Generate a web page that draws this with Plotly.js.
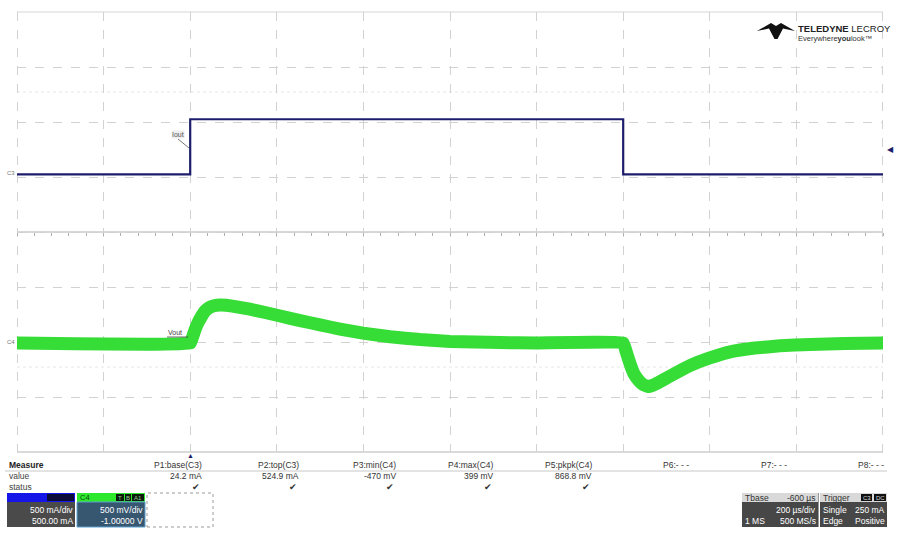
<!DOCTYPE html>
<html>
<head>
<meta charset="utf-8">
<script src="https://cdn.plot.ly/plotly-3.0.1.min.js"></script>
<style>
html,body{margin:0;padding:0;background:#fff;}
#chart{width:900px;height:549px;}
</style>
</head>
<body>
<div id="chart"></div>
<script>
// ---- Data ----
// C3: output current (mA) vs time (µs), trigger at t = 0
const timeC3 = [-400, 0, 0, 1000, 1000, 1600];
const currentC3 = [24.2, 24.2, 524.9, 524.9, 24.2, 24.2];

// C4: output voltage deviation (mV) vs time (µs)
const timeC4 = [-400, 0, 5, 11, 18, 25, 34, 44, 55, 69, 83, 104, 138, 173, 208, 254, 300, 346, 399, 462, 531, 600, 716, 800, 1000,
                1007, 1016, 1025, 1037, 1048, 1060, 1073, 1092, 1120, 1154, 1200, 1247, 1304, 1362, 1432, 1512, 1600];
const voutC4 = [-10, -10, 40, 109, 175, 225, 280, 312, 330, 337, 334, 322, 298, 268, 236, 195, 155, 118, 80, 48, 22, 5, -5, -9, -9,
                -90, -200, -290, -355, -392, -405, -385, -345, -285, -215, -145, -90, -55, -35, -22, -14, -10];

// Measurement table
const measNames = ["P1:base(C3)", "P2:top(C3)", "P3:min(C4)", "P4:max(C4)", "P5:pkpk(C4)", "P6:- - -", "P7:- - -", "P8:- - -"];
const measValues = ["24.2 mA", "524.9 mA", "-470 mV", "399 mV", "868.8 mV", "", "", ""];
const measStatus = ["✔", "✔", "✔", "✔", "✔", "", "", ""];

// Channel / timebase settings
const c3Settings = ["500 mA/div", "500.00 mA"];
const c4Settings = ["500 mV/div", "-1.00000 V"];
const tbaseSettings = {delay: "-600 µs", scale: "200 µs/div", points: "1 MS", rate: "500 MS/s"};
const trigSettings = {mode: "Single", level: "250 mA", type: "Edge", slope: "Positive"};

// ---- Layout helpers (pixel -> paper) ----
const L = 17, R = 883, T = 12, B = 452;
const px = x => (x - L) / (R - L);
const py = y => (B - y) / (B - T);

const FONT = "Liberation Sans, Arial, sans-serif";
const navy = "#1d1d6c";
const green = "#36dd36";

const traces = [
  {x: timeC4, y: voutC4, yaxis: "y2", mode: "lines", line: {color: green, width: 13, shape: "spline", smoothing: 0.25}, hoverinfo: "skip"},
  {x: timeC3, y: currentC3, mode: "lines", line: {color: navy, width: 2.2}, hoverinfo: "skip"}
];

const shapes = [];
const ann = [];

function rect(x0, y0, x1, y1, fill, lineColor, dash) {
  shapes.push({type: "rect", xref: "paper", yref: "paper", x0: px(x0), x1: px(x1), y0: py(y1), y1: py(y0),
    fillcolor: fill, line: {color: lineColor || fill, width: lineColor ? 1 : 0, dash: dash || "solid"}, layer: "above"});
}
function line(x0, y0, x1, y1, color, width, dash, layer) {
  shapes.push({type: "line", xref: "paper", yref: "paper", x0: px(x0), x1: px(x1), y0: py(y0), y1: py(y1),
    line: {color: color, width: width || 1, dash: dash || "solid"}, layer: layer || "above"});
}
function text(x, y, s, opts) {
  opts = opts || {};
  ann.push({xref: "paper", yref: "paper", x: px(x), y: py(y), text: s, showarrow: false,
    xanchor: opts.anchor || "left", yanchor: "middle", borderpad: 0,
    bgcolor: opts.bg || "rgba(0,0,0,0)",
    font: {family: opts.family || FONT, size: opts.size || 8.5, color: opts.color || "#333"}});
}

// center horizontal axis (solid) and faint dotted rows
line(L, 232, R, 232, "#b0b0b0", 1, "solid", "below");
line(L, 92, R, 92, "#e6e6e6", 1, "dot", "below");
line(L, 367, R, 367, "#e6e6e6", 1, "dot", "below");
// grid border
line(L, T, R, T, "#d6d6d6", 1, "solid", "below");
line(L, B, R, B, "#b5b5b5", 1, "solid", "below");
line(L + 0.5, T, L + 0.5, B, "#d2d2d2", 1, "dash", "below");
line(R - 0.5, T, R - 0.5, B, "#d2d2d2", 1, "dash", "below");

// trace labels and markers
text(171, 134, "Iout", {size: 7, color: "#555", bg: "#eeeeee"});
line(178, 139, 189, 148, "#555", 0.8);
text(167, 332, "Vout", {size: 7, color: "#444"});
line(167, 337, 188, 337, "#444", 0.8);
text(6, 173, "C3", {size: 6, color: "#777"});
text(6, 342, "C4", {size: 6, color: "#777"});
text(890, 149, "◀", {anchor: "center", size: 8, color: navy});
text(190, 455, "▲", {anchor: "center", size: 7, color: navy});

// logo
shapes.push({type: "path", xref: "paper", yref: "paper", layer: "above",
  path: ["M", px(757), py(31), "L", px(771), py(23), "L", px(776), py(26), "L", px(781), py(23),
         "L", px(795), py(31), "L", px(783), py(28.5), "L", px(777.5), py(39), "L", px(774.5), py(39),
         "L", px(769), py(28.5), "Z"].map((v, i) => typeof v === "number" ? v.toFixed(5) : v).join(" ").replace(/ (\-?[\d.]+) (\-?[\d.]+)/g, " $1,$2"),
  fillcolor: "#111", line: {width: 0}});
text(797, 28, "<b>TELEDYNE</b> LECROY", {size: 9.5, color: "#222", family: "Liberation Sans Narrow, Arial Narrow, Liberation Sans, sans-serif"});
text(797, 38, "Everywhere<b>you</b>look™", {size: 7.5, color: "#333", family: "Liberation Sans Narrow, Arial Narrow, Liberation Sans, sans-serif"});

// measurement table
text(8, 465, "<b>Measure</b>", {size: 8.5, color: "#222"});
text(8, 476, "value", {size: 8.5, color: "#444"});
text(8, 487, "status", {size: 8.5, color: "#444"});
line(5, 471, 887, 471, "#c8c8c8", 1);
const colRight = [203, 300, 397, 495, 593, 690, 788, 885];
for (let i = 0; i < measNames.length; i++) {
  text(colRight[i], 465, measNames[i], {anchor: "right", size: 8.5, color: "#333"});
  if (measValues[i]) text(colRight[i], 476, measValues[i], {anchor: "right", size: 8.5, color: "#333"});
  if (measStatus[i]) text(colRight[i] - 7, 487, measStatus[i], {anchor: "center", size: 9, color: "#333"});
}

// C3 descriptor box
rect(7, 493, 75, 502, "#1515e8");
rect(47, 494, 74, 501, "#0c0c3a");
rect(7, 502, 75, 527, "#4a4a4a");
text(74, 509.5, c3Settings[0], {anchor: "right", size: 8.5, color: "#fff"});
text(74, 520.5, c3Settings[1], {anchor: "right", size: 8.5, color: "#fff"});
// C4 descriptor box
rect(77, 493, 145, 502, "#2ee82e");
text(79, 497.5, "C4", {size: 7.5, color: "#114411"});
rect(116, 494, 124, 501, "#0d1a0d");
rect(125, 494, 131, 501, "#0d1a0d");
rect(132, 494, 144, 501, "#0d1a0d");
text(120, 497.5, "T", {anchor: "center", size: 6, color: "#9c9"});
text(128, 497.5, "B", {anchor: "center", size: 6, color: "#9c9"});
text(138, 497.5, "A1", {anchor: "center", size: 6, color: "#9c9"});
rect(77, 502, 145, 527, "#37566f", "#5c9fd0");
text(144, 509.5, c4Settings[0], {anchor: "right", size: 8.5, color: "#fff"});
text(144, 520.5, c4Settings[1], {anchor: "right", size: 8.5, color: "#fff"});
// empty dashed box
rect(147, 493, 213, 527, "rgba(0,0,0,0)", "#9a9a9a", "dot");

// Timebase box
rect(742, 493, 818, 502, "#d9d9d9");
text(744, 497.5, "Tbase", {size: 8.5, color: "#333"});
text(817, 497.5, tbaseSettings.delay, {anchor: "right", size: 8.5, color: "#333"});
rect(742, 502, 818, 527, "#474747");
text(817, 510, tbaseSettings.scale, {anchor: "right", size: 8.5, color: "#fff"});
text(744, 521, tbaseSettings.points, {size: 8.5, color: "#fff"});
text(817, 521, tbaseSettings.rate, {anchor: "right", size: 8.5, color: "#fff"});
line(818.5, 493, 818.5, 527, "#999", 1);
// Trigger box
rect(820, 493, 887, 502, "#d9d9d9");
text(822, 497.5, "Trigger", {size: 8.5, color: "#333"});
rect(861, 494, 872, 501, "#111");
rect(874, 494, 886, 501, "#111");
text(866.5, 497.5, "C3", {anchor: "center", size: 6, color: "#ddd"});
text(880, 497.5, "DC", {anchor: "center", size: 6, color: "#ddd"});
rect(820, 502, 887, 527, "#474747");
text(822, 510, trigSettings.mode, {size: 8.5, color: "#fff"});
text(886, 510, trigSettings.level, {anchor: "right", size: 8.5, color: "#fff"});
text(822, 521, trigSettings.type, {size: 8.5, color: "#fff"});
text(886, 521, trigSettings.slope, {anchor: "right", size: 8.5, color: "#fff"});

const gridAxis = {
  showgrid: true, griddash: "dash", gridcolor: "#d2d2d2", gridwidth: 1,
  zeroline: false, showticklabels: false, ticks: "", showline: false, fixedrange: true
};

const layout = {
  width: 900, height: 549,
  margin: {l: L, r: 900 - R, t: T, b: 549 - B, pad: 0},
  paper_bgcolor: "#ffffff", plot_bgcolor: "#ffffff",
  showlegend: false,
  xaxis: Object.assign({}, gridAxis, {range: [-400, 1600], dtick: 200, tick0: -400}),
  xaxis2: {overlaying: "x", anchor: "free", position: 0.5, range: [-400, 1600], dtick: 40, tick0: -400,
           ticks: "outside", ticklen: 3, tickcolor: "#b0b0b0", showticklabels: false, showgrid: false,
           zeroline: false, showline: false, fixedrange: true},
  yaxis: Object.assign({}, gridAxis, {range: [-2500, 1500], dtick: 500, tick0: -2500}),
  yaxis2: {overlaying: "y", range: [-1000, 3000], showgrid: false, zeroline: false,
           showticklabels: false, ticks: "", fixedrange: true},
  shapes: shapes,
  annotations: ann,
  font: {family: FONT}
};

// invisible trace to activate the centre tick axis
traces.push({x: [-400, 1600], y: [-500, -500], xaxis: "x2", mode: "lines", line: {width: 0}, hoverinfo: "skip"});

Plotly.newPlot("chart", traces, layout, {staticPlot: true, displayModeBar: false});
</script>
</body>
</html>
